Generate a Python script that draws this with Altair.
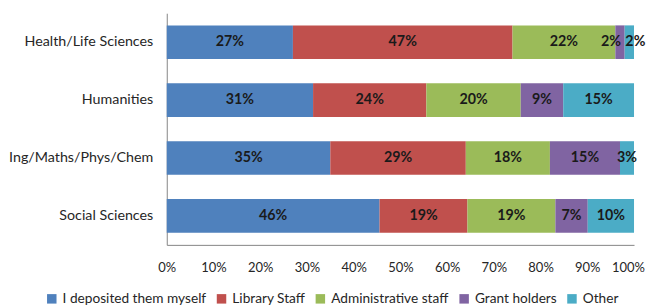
import altair as alt
import pandas as pd

categories = ["Health/Life Sciences", "Humanities", "Ing/Maths/Phys/Chem", "Social Sciences"]
series = ["I deposited them myself", "Library Staff", "Administrative staff", "Grant holders", "Other"]
colors = ["#4F81BD", "#C0504D", "#9BBB59", "#8064A2", "#4BACC6"]

deposited_myself = [27, 31, 35, 46]
library_staff = [47, 24, 29, 19]
administrative_staff = [22, 20, 18, 19]
grant_holders = [2, 9, 15, 7]
other = [2, 15, 3, 10]

all_values = [deposited_myself, library_staff, administrative_staff, grant_holders, other]
rows = []
for si, (s, vals) in enumerate(zip(series, all_values)):
    for ci, (c, v) in enumerate(zip(categories, vals)):
        rows.append({"category": c, "series": s, "order": si, "value": v, "label": f"{v}%"})
df = pd.DataFrame(rows)

FONT = "Lato"

base = alt.Chart(df).transform_stack(
    stack="value", groupby=["category"], as_=["v0", "v1"], offset="normalize",
    sort=[alt.SortField("order", order="ascending")]
).transform_calculate(mid="(datum.v0 + datum.v1) / 2")

y_enc = alt.Y("category:N", sort=categories, title=None,
              scale=alt.Scale(paddingInner=0.42, paddingOuter=0.21),
              axis=alt.Axis(ticks=False, domainColor="#868686", labelPadding=14,
                            labelFontSize=14.3, labelColor="#262626", labelFont=FONT,
                            minExtent=158, maxExtent=158, labelLimit=200))

bars = base.mark_bar().encode(
    x=alt.X("v0:Q", title=None, scale=alt.Scale(domain=[0, 1], nice=False),
            axis=alt.Axis(format="%", values=[i / 10 for i in range(11)], ticks=False,
                          grid=False, domainColor="#868686", labelPadding=17,
                          labelFontSize=13, labelColor="#262626", labelFont=FONT,
                          labelFlush=False,
                          labelOffset=alt.ExprRef("datum.value == 1 ? -6 : 0"))),
    x2="v1:Q",
    y=y_enc,
    color=alt.Color("series:N", sort=series,
                    scale=alt.Scale(domain=series, range=colors),
                    legend=alt.Legend(title=None, orient="none", direction="horizontal",
                                      legendX=-122, legendY=279, symbolType="square",
                                      symbolSize=90, symbolStrokeWidth=0,
                                      labelFontSize=13.7, labelFont=FONT, labelColor="#262626",
                                      columnPadding=8, labelOffset=4)),
    order=alt.Order("order:Q"),
)

text_style = dict(fontWeight="bold", fontSize=14.3, font=FONT, color="#1a1a1a", baseline="middle")

labels = base.transform_filter("datum.value > 2").mark_text(**text_style).encode(
    x="mid:Q", y=alt.Y("category:N", sort=categories), text="label:N")
small_grant = base.transform_filter("datum.value <= 2 && datum.series == 'Grant holders'").mark_text(
    dx=-9, **text_style).encode(x="mid:Q", y=alt.Y("category:N", sort=categories), text="label:N")
small_other = base.transform_filter("datum.value <= 2 && datum.series == 'Other'").mark_text(
    dx=6, **text_style).encode(x="mid:Q", y=alt.Y("category:N", sort=categories), text="label:N")

chart = alt.layer(bars, labels, small_grant, small_other).properties(
    width=468, height=232,
    padding={"left": 0, "top": 5, "right": 0, "bottom": 0},
    background="white",
).configure_view(stroke=None)

chart.save("out.html", embed_options={"renderer": "svg", "actions": False})
